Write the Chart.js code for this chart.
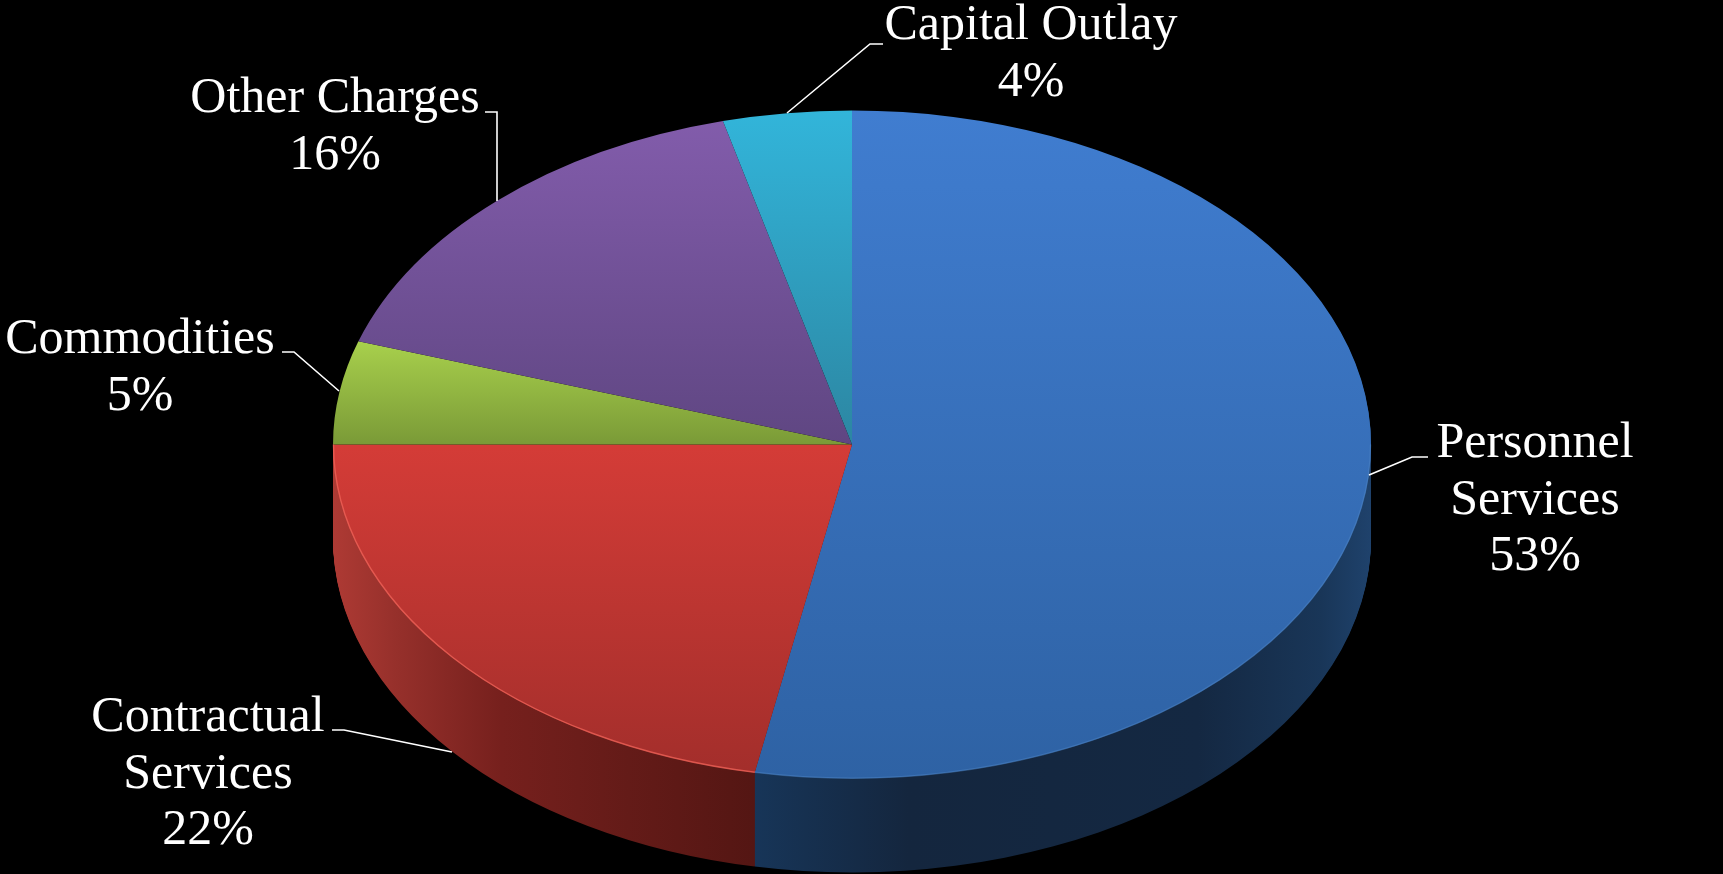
<!DOCTYPE html>
<html>
<head>
<meta charset="utf-8">
<title>Budget pie</title>
<script src="https://cdn.jsdelivr.net/npm/chart.js@4/dist/chart.umd.min.js"></script>
<style>
  html, body { margin: 0; background: #000; overflow: hidden; }
  canvas { display: block; }
</style>
</head>
<body>
<canvas id="pie" width="1723" height="874"></canvas>
<script>
// Data, clockwise from 12 o'clock
const categories = ['Personnel\nServices', 'Contractual\nServices', 'Commodities', 'Other Charges', 'Capital Outlay'];
const shares = [53, 22, 5, 16, 4];

// Slice colours, top and bottom of each face
const faceTop = ['#407dd0', '#d43c37', '#a8d04c', '#825cab', '#32b5da'];
const faceBottom = ['#2e62a4', '#a32e2b', '#7a9a37', '#5f4682', '#2c86a2'];
const rimColors = ['rgba(80,135,200,.45)', 'rgba(238,98,88,.8)'];

// Only the two front slices show a wall
const wallStops = [
  [[0, '#173558'], [.25, '#14263e'], [.72, '#142842'], [.92, '#193658'], [1, '#1f426c']],
  [[0, '#ae3a34'], [.15, '#96302b'], [.4, '#76201d'], [.7, '#641b18'], [1, '#541613']]
];

// Layout
const radiusX = 519, radiusY = 334, depth = 94;
const labelFont = '50px "Liberation Serif", serif';
const lineStep = 56.5;
const labelCenters = [[1535, 457], [208, 731], [140, 353], [335, 112], [1031, 39]];
const leaders = [
  [[1428, 457], [1412, 457], [1369, 475]],
  [[332, 730], [344, 730], [452, 752]],
  [[282, 352], [294, 352], [339, 391]],
  [[485, 112], [497, 112], [497, 201]],
  [[883, 44], [870, 44], [787, 113]]
];

function squash(ctx, arc) {
  ctx.translate(arc.x, arc.y);
  ctx.scale(1, radiusY / radiusX);
  ctx.translate(-arc.x, -arc.y);
}

// Vertical gradient over the slice's own extent
function faceGradient(ctx, arc, i) {
  const ys = [0, Math.sin(arc.startAngle), Math.sin(arc.endAngle)];
  if (arc.startAngle < Math.PI / 2 && arc.endAngle > Math.PI / 2) ys.push(1);
  const g = ctx.createLinearGradient(0, arc.y + Math.min(...ys) * arc.outerRadius, 0, arc.y + Math.max(...ys) * arc.outerRadius);
  g.addColorStop(0, faceTop[i]);
  g.addColorStop(1, faceBottom[i]);
  return g;
}

// Horizontal gradient over the part of the wall that is visible
function wallGradient(ctx, arc, i) {
  const seam = arc.x + Math.cos(i === 0 ? arc.endAngle : arc.startAngle) * arc.outerRadius;
  const g = i === 0
    ? ctx.createLinearGradient(seam, 0, arc.x + arc.outerRadius, 0)
    : ctx.createLinearGradient(arc.x - arc.outerRadius, 0, seam, 0);
  wallStops[i].forEach(s => g.addColorStop(s[0], s[1]));
  return g;
}

const tiltPlugin = {
  id: 'tilt',
  beforeDatasetsDraw(chart) {
    const ctx = chart.ctx;
    const arcs = chart.getDatasetMeta(0).data;
    // wall: the same arcs stacked downwards, red first so the seam stays vertical
    for (let i = wallStops.length - 1; i >= 0; i--) {
      const arc = arcs[i];
      const saved = arc.options;
      arc.options = Object.assign({}, saved, { backgroundColor: wallGradient(ctx, arc, i) });
      for (let d = depth; d > 0; d--) {
        ctx.save();
        ctx.translate(0, d);
        squash(ctx, arc);
        arc.draw(ctx);
        ctx.restore();
      }
      arc.options = saved;
    }
    // top face goes through the normal dataset draw, squashed
    arcs.forEach((arc, i) => {
      arc.options = Object.assign({}, arc.options, { backgroundColor: faceGradient(ctx, arc, i) });
    });
    ctx.save();
    squash(ctx, arcs[0]);
  },
  afterDatasetsDraw(chart) {
    const ctx = chart.ctx;
    ctx.restore();
    const arcs = chart.getDatasetMeta(0).data;
    // light line where the face meets the wall
    rimColors.forEach((color, i) => {
      const arc = arcs[i];
      ctx.save();
      squash(ctx, arc);
      ctx.beginPath();
      ctx.arc(arc.x, arc.y, arc.outerRadius - 0.5, Math.max(arc.startAngle, 0), arc.endAngle);
      ctx.restore();
      ctx.strokeStyle = color;
      ctx.lineWidth = 1.4;
      ctx.stroke();
    });
  },
  afterDraw(chart) {
    const ctx = chart.ctx;
    ctx.save();
    ctx.strokeStyle = '#fff';
    ctx.lineWidth = 1.6;
    leaders.forEach(path => {
      ctx.beginPath();
      path.forEach((p, i) => i ? ctx.lineTo(p[0], p[1]) : ctx.moveTo(p[0], p[1]));
      ctx.stroke();
    });
    ctx.fillStyle = '#fff';
    ctx.font = labelFont;
    ctx.textAlign = 'center';
    ctx.textBaseline = 'alphabetic';
    categories.forEach((name, i) => {
      const lines = name.split('\n').concat(shares[i] + '%');
      lines.forEach((line, n) => ctx.fillText(line, labelCenters[i][0], labelCenters[i][1] + n * lineStep));
    });
    ctx.restore();
  }
};

new Chart(document.getElementById('pie'), {
  type: 'pie',
  data: {
    labels: categories,
    datasets: [{
      data: shares,
      backgroundColor: faceTop,
      borderWidth: 0,
      radius: radiusX,
      clip: false
    }]
  },
  options: {
    responsive: false,
    animation: false,
    layout: { padding: { top: 15, right: 19 } },
    plugins: { legend: { display: false }, tooltip: { enabled: false } }
  },
  plugins: [tiltPlugin]
});
</script>
</body>
</html>
